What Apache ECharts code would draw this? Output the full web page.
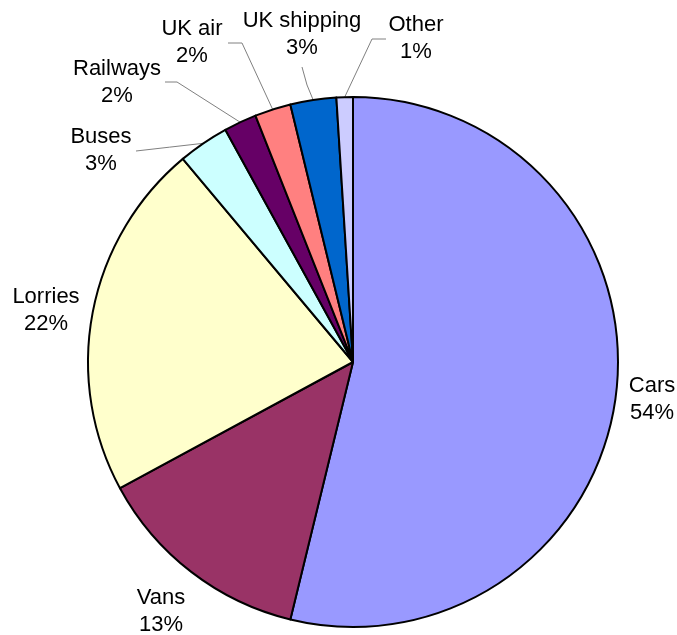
<!DOCTYPE html>
<html>
<head>
<meta charset="utf-8">
<script src="https://cdn.jsdelivr.net/npm/echarts@6/dist/echarts.min.js"></script>
<style>html,body{margin:0;padding:0;background:#fff;}#c{width:677px;height:635px;}</style>
</head>
<body>
<div id="c"></div>
<script>
var categories = ['Cars', 'Vans', 'Lorries', 'Buses', 'Railways', 'UK air', 'UK shipping', 'Other'];
var shares = [53.8, 13.3, 21.8, 3.1, 2.0, 2.2, 2.8, 1.0];
var colors = ['#9999FF', '#993366', '#FFFFCC', '#CCFFFF', '#660066', '#FF8080', '#0066CC', '#CCCCFF'];
var showLine = [false, false, false, true, true, true, true, true];

// label layout (centre of two-line label block) and leader-line attach/elbow offsets from that centre
var labelCentre = [[652, 399], [161, 611], [46, 310], [101, 150], [117, 82], [192, 42], [302, 34], [416, 38]];
var leaderAttach = [null, null, null, [[35, 1]], [[48, 0], [60, 0]], [[36, 1], [50, 1]], [[0, 33], [5, 51]], [[-30, 1], [-44, 1]]];

var chart = echarts.init(document.getElementById('c'), null, {renderer: 'canvas'});
var data = categories.map(function (name, i) {
  return {
    name: name,
    value: shares[i],
    itemStyle: {color: colors[i]},
    labelLine: {show: showLine[i]}
  };
});
chart.setOption({
  backgroundColor: '#ffffff',
  animation: false,
  series: [{
    type: 'pie',
    center: [353, 362],
    radius: 265,
    startAngle: 90,
    clockwise: true,
    avoidLabelOverlap: false,
    data: data,
    itemStyle: {borderColor: '#000000', borderWidth: 2},
    label: {
      show: true,
      position: 'outside',
      formatter: function (p) { return p.name + '\n' + Math.round(p.percent) + '%'; },
      fontFamily: '"Liberation Sans", Arial, sans-serif',
      fontSize: 22,
      lineHeight: 27,
      color: '#000000',
      align: 'center'
    },
    labelLine: {
      show: true,
      length: 20,
      length2: 20,
      lineStyle: {color: '#808080', width: 1}
    },
    labelLayout: function (params) {
      var i = params.dataIndex;
      var c = labelCentre[i];
      var res = {x: c[0], y: c[1], align: 'center', verticalAlign: 'middle', hideOverlap: false};
      var a = leaderAttach[i];
      if (a && params.labelLinePoints) {
        var pts = a.map(function (o) { return [c[0] + o[0], c[1] + o[1]]; });
        pts.push(params.labelLinePoints[0]);
        if (pts.length === 2) {
          pts = [pts[1], [(pts[0][0] + pts[1][0]) / 2, (pts[0][1] + pts[1][1]) / 2], pts[0]];
        } else {
          pts = [pts[2], pts[1], pts[0]];
        }
        res.labelLinePoints = pts;
      }
      return res;
    }
  }]
});
</script>
</body>
</html>
